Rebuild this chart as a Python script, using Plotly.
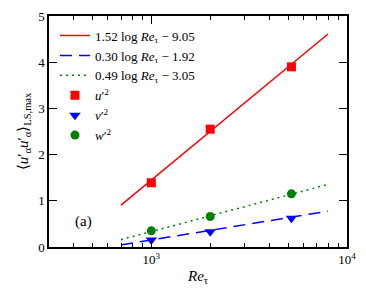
import numpy as np
import plotly.graph_objects as go

# Data
re_tau = [1000, 2000, 5200]
u2 = [1.39, 2.55, 3.90]
v2 = [0.15, 0.33, 0.62]
w2 = [0.35, 0.66, 1.15]
fit_range = [700, 8000]
fits = {
    "u": (1.52, 9.05),
    "v": (0.30, 1.92),
    "w": (0.49, 3.05),
}
x_major = [1000, 10000]
x_major_text = ["10<sup>3</sup>", "10<sup>4</sup>"]
x_minor = [300, 400, 500, 600, 700, 800, 900, 2000, 3000, 4000, 5000, 6000, 7000, 8000, 9000]
y_ticks = [0, 1, 2, 3, 4, 5]

FONT = "Liberation Serif, serif"
RE = "<i>Re</i><sub>τ</sub>"

fx = np.array(fit_range, dtype=float)
fig = go.Figure()

def fit_y(a, b):
    return a * np.log(fx) - b

fig.add_trace(go.Scatter(x=fx, y=fit_y(*fits["u"]), mode="lines",
                         line=dict(color="#ff0000", width=1.5),
                         name=f"1.52 log {RE} − 9.05"))
fig.add_trace(go.Scatter(x=fx, y=fit_y(*fits["v"]), mode="lines",
                         line=dict(color="#0000ff", width=1.5, dash="12px,7px"),
                         name=f"0.30 log {RE} − 1.92"))
fig.add_trace(go.Scatter(x=fx, y=fit_y(*fits["w"]), mode="lines",
                         line=dict(color="#008000", width=1.5, dash="2px,4px"),
                         name=f"0.49 log {RE} − 3.05"))
fig.add_trace(go.Scatter(x=re_tau, y=u2, mode="markers",
                         marker=dict(symbol="square", color="#ff0000", size=9),
                         name="<i>u</i>′<sup>2</sup>"))
fig.add_trace(go.Scatter(x=re_tau, y=v2, mode="markers",
                         marker=dict(symbol="triangle-down", color="#0000ff", size=10),
                         name="<i>v</i>′<sup>2</sup>"))
fig.add_trace(go.Scatter(x=re_tau, y=w2, mode="markers",
                         marker=dict(symbol="circle", color="#008000", size=9),
                         name="<i>w</i>′<sup>2</sup>"))

fig.add_annotation(x=np.log10(452), y=0.56, text="(a)", showarrow=False,
                   font=dict(family=FONT, size=15, color="black"))

fig.update_layout(
    width=366, height=295,
    margin=dict(l=49, r=19, t=16, b=48, autoexpand=False),
    plot_bgcolor="white", paper_bgcolor="white",
    font=dict(family=FONT, size=13, color="black"),
    legend=dict(x=0.02, y=0.98, xanchor="left", yanchor="top",
                bgcolor="rgba(0,0,0,0)", font=dict(family=FONT, size=13),
                tracegroupgap=0, itemwidth=30),
    showlegend=True,
)
fig.update_xaxes(
    type="log", range=[np.log10(300), 4], automargin=False,
    tickmode="array", tickvals=x_major, ticktext=x_major_text,
    ticks="inside", ticklen=8, tickwidth=1, tickcolor="black",
    minor=dict(tickmode="array", tickvals=x_minor, ticks="inside", ticklen=4,
               tickwidth=1, tickcolor="black", showgrid=False),
    showline=True, linecolor="black", linewidth=1.5, mirror="ticks",
    showgrid=False, zeroline=False,
    title=dict(text=RE, font=dict(family=FONT, size=15), standoff=4),
    tickfont=dict(family=FONT, size=13),
)
fig.update_yaxes(
    range=[0, 5], tickmode="array", tickvals=y_ticks, automargin=False,
    ticks="inside", ticklen=8, tickwidth=1, tickcolor="black",
    showline=True, linecolor="black", linewidth=1.5, mirror="ticks",
    showgrid=False, zeroline=False,
    title=dict(text="⟨<i>u</i>′<sub>α</sub><i>u</i>′<sub>α</sub>⟩<sub>LS,max</sub>",
               font=dict(family=FONT, size=15), standoff=6),
    tickfont=dict(family=FONT, size=13),
)

fig.write_html("out.html", post_script="document.body.style.margin='0';",
               config={"displayModeBar": False})
